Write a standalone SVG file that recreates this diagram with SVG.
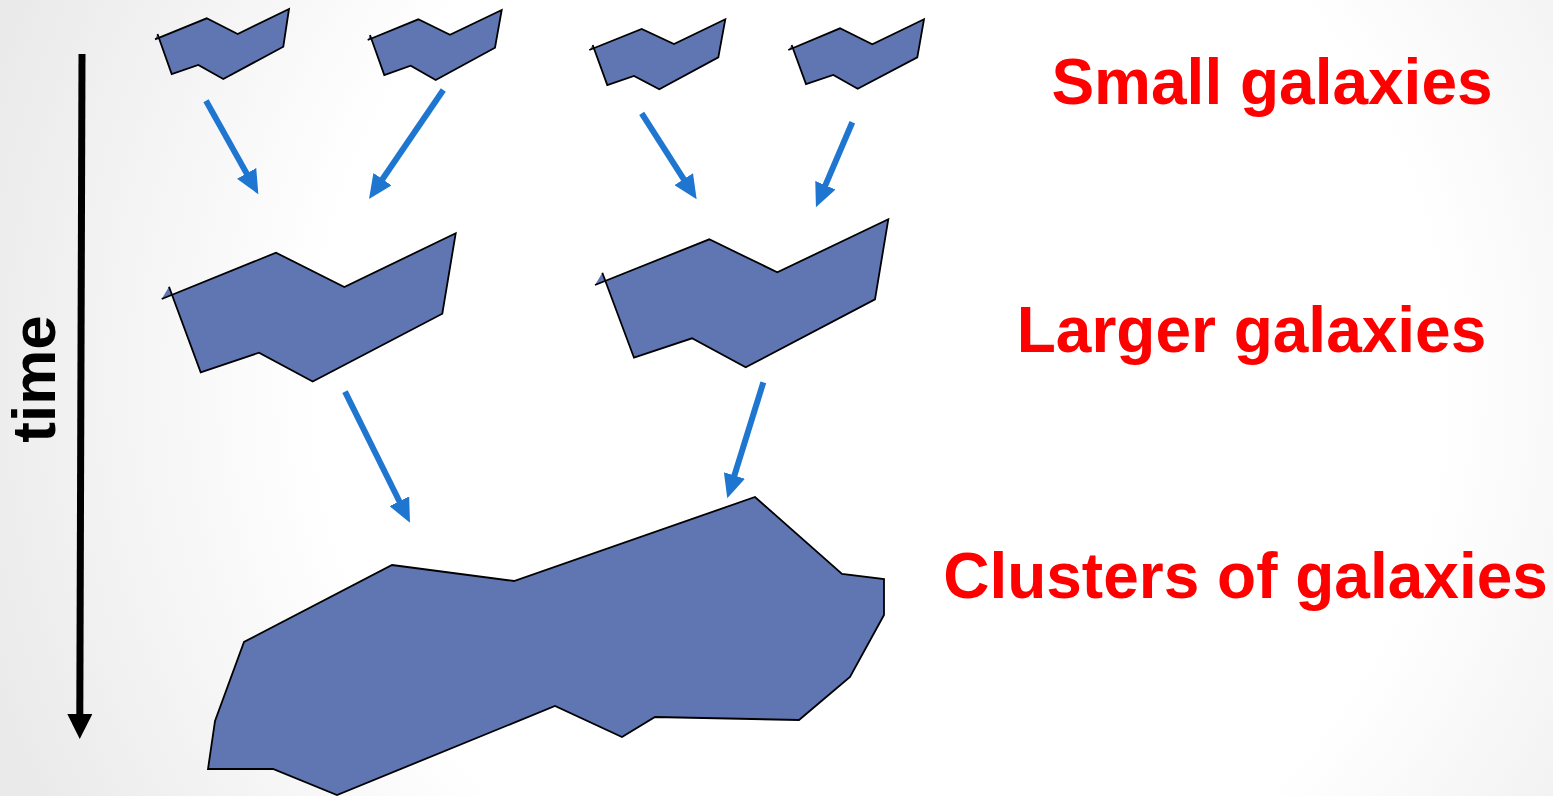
<svg xmlns="http://www.w3.org/2000/svg" width="1553" height="796" viewBox="0 0 1553 796">
  <defs>
    <radialGradient id="bg" gradientUnits="userSpaceOnUse" cx="880" cy="380" r="940">
      <stop offset="0" stop-color="#ffffff"/>
      <stop offset="0.6" stop-color="#ffffff"/>
      <stop offset="1" stop-color="#eaeaea"/>
    </radialGradient>
    <marker id="blueHead" markerUnits="userSpaceOnUse" viewBox="0 0 24 22" markerWidth="24" markerHeight="22" refX="2" refY="11" orient="auto">
      <path d="M0,0 L24,11 L0,22 Z" fill="#1e76d0"/>
    </marker>
    <marker id="timeHead" markerUnits="userSpaceOnUse" viewBox="0 0 25 25" markerWidth="25" markerHeight="25" refX="2" refY="12.5" orient="auto">
      <path d="M0,0 L25,12.5 L0,25 Z" fill="#000000"/>
    </marker>
  </defs>
  <style>
    .galaxy { fill: #6076b3; stroke: #000000; stroke-width: 1.8; stroke-linejoin: miter; }
    .flow { stroke: #1e76d0; stroke-width: 6; fill: none; marker-end: url(#blueHead); }
    .label { font-family: "Liberation Sans", Arial, sans-serif; font-weight: bold; font-size: 64px; fill: #ff0000; text-anchor: middle; }
    .axis { font-family: "Liberation Sans", Arial, sans-serif; font-weight: bold; font-size: 62px; fill: #000000; text-anchor: middle; }
  </style>

  <rect x="0" y="0" width="1553" height="796" fill="url(#bg)"/>

  <!-- time axis -->
  <g id="time-axis">
    <line x1="82" y1="54" x2="79.8" y2="716" stroke="#000000" stroke-width="7" marker-end="url(#timeHead)"/>
    <text class="axis" transform="translate(55,379) rotate(-90)">time</text>
  </g>

  <!-- small galaxies (open paths: fill closes, stroke does not) -->
  <g id="small-galaxy-1">
    <path class="galaxy" d="M157.5,34 L171.7,74 L198.3,65 L223.3,79 L283.3,46.7 L289,9 L237.7,34 L206.7,18.3 L155,39.3"/>
  </g>
  <g id="small-galaxy-2">
    <path class="galaxy" d="M370,35 L384.3,75 L410.7,65.7 L435.7,80 L495,47.7 L501.7,10 L450,34.7 L418.3,19.3 L367.7,40"/>
  </g>
  <g id="small-galaxy-3">
    <path class="galaxy" d="M592.7,45 L607.3,85 L634,76 L659.3,89.3 L718.3,57.3 L725.3,19.3 L674,44 L641.7,29 L589.3,50"/>
  </g>
  <g id="small-galaxy-4">
    <path class="galaxy" d="M791.7,45 L806,84 L833.3,75 L857.7,88.7 L917.3,57.3 L924,19.3 L872.3,44.3 L840,28.3 L788.3,50"/>
  </g>

  <!-- larger galaxies -->
  <g id="larger-galaxy-1">
    <path class="galaxy" d="M169,286.7 L200.7,372.3 L259,352.7 L312.7,381.5 L442.3,313.7 L455.7,233.3 L344.3,287 L276,252.7 L161.7,299"/>
  </g>
  <g id="larger-galaxy-2">
    <path class="galaxy" d="M602.3,272.7 L634,357.7 L692,338.3 L745.7,367.3 L875,299.3 L888.3,219.3 L777.3,272.3 L709.3,239.3 L595,285"/>
  </g>

  <!-- cluster of galaxies -->
  <g id="cluster">
    <path class="galaxy" d="M392,565 L514,581 L755,497 L842,574 L884,579 L884,615 L850,677 L799,720 L655,717 L622,737 L555,706 L337,795 L273,769 L208,769 L215,721 L244,642 Z"/>
  </g>

  <!-- merger arrows -->
  <g id="connectors">
    <line class="flow" x1="206" y1="100.7" x2="247.6" y2="175.1"/>
    <line class="flow" x1="443.3" y1="90" x2="381.4" y2="180.8"/>
    <line class="flow" x1="641.7" y1="113.3" x2="684.8" y2="180.8"/>
    <line class="flow" x1="852.3" y1="122.3" x2="824.6" y2="187.1"/>
    <line class="flow" x1="345" y1="391.7" x2="400.2" y2="503"/>
    <line class="flow" x1="763.3" y1="382.3" x2="733.8" y2="477.3"/>
  </g>

  <!-- stage labels -->
  <g id="labels">
    <text class="label" x="1272" y="104">Small galaxies</text>
    <text class="label" x="1251.5" y="352">Larger galaxies</text>
    <text class="label" x="1245.5" y="598">Clusters of galaxies</text>
  </g>
</svg>
